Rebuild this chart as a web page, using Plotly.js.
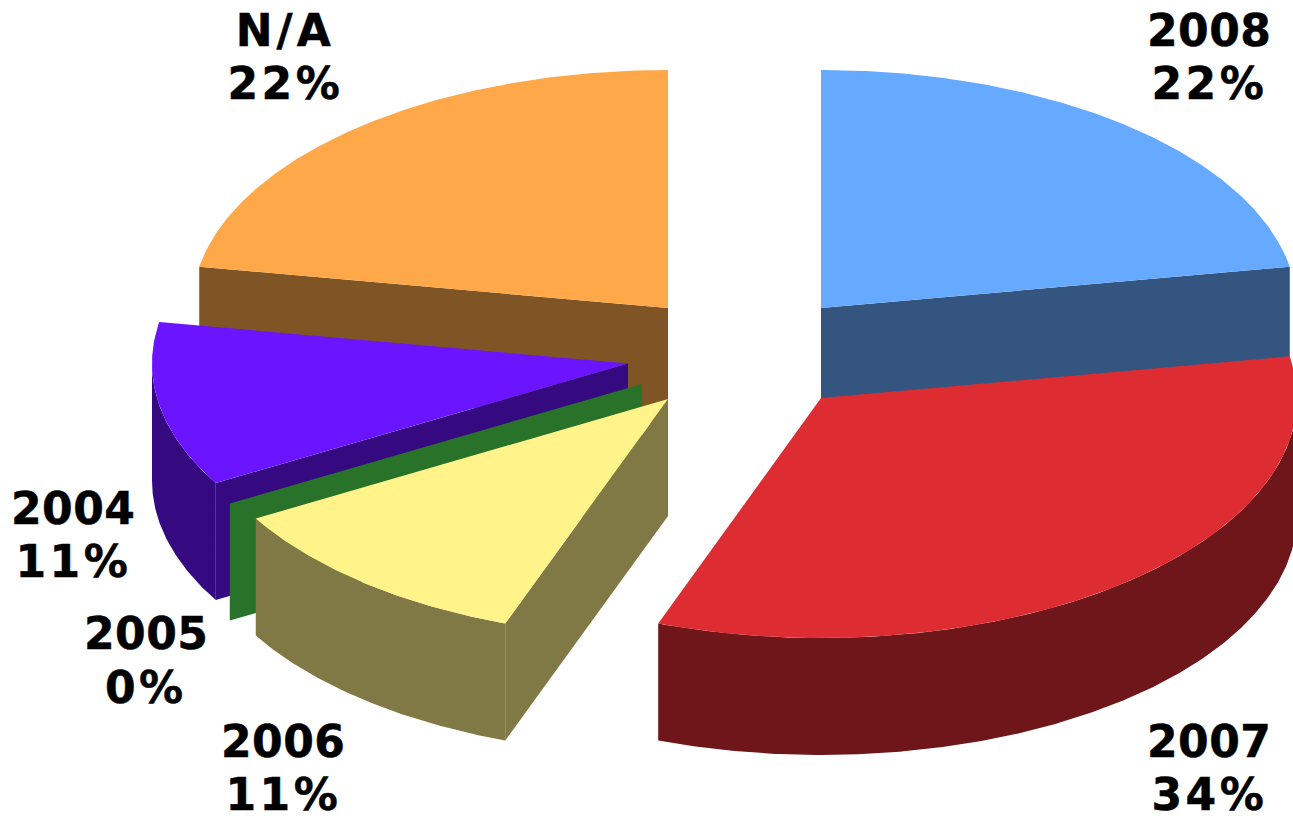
<!DOCTYPE html>
<html>
<head>
<meta charset="utf-8">
<script src="https://cdn.plot.ly/plotly-3.0.1.min.js"></script>
<style>
html,body{margin:0;padding:0;background:#fff;overflow:hidden}
#chart{width:1293px;height:816px}
.annotation-text{letter-spacing:.5px;stroke:#000;stroke-width:.5px}
.annotation[data-index="1"] .annotation-text,
.annotation[data-index="3"] .annotation-text,
.annotation[data-index="5"] .annotation-text,
.annotation[data-index="7"] .annotation-text,
.annotation[data-index="9"] .annotation-text,
.annotation[data-index="11"] .annotation-text{letter-spacing:3.5px}
.annotation[data-index="10"] .annotation-text{letter-spacing:4px}
</style>
</head>
<body>
<div id="chart"></div>
<script>
// Data: counts behind each slice and the printed labels
const categories = ['2008', '2007', '2006', '2005', '2004', 'N/A'];
const counts = [2, 3, 1, 0, 1, 2];
const percentLabels = ['22%', '34%', '11%', '0%', '11%', '22%'];

// Styling
const topColors = ['#66AAFF', '#DD2D32', '#FFF38A', '#4CDF52', '#6A14FF', '#FFA84A'];
const wallColors = ['#33557F', '#6F161A', '#807945', '#297229', '#350A80', '#7F5525'];

// Geometry of the tilted, exploded pie
const centerX = [821, 821, 668, 642, 628, 668];
const centerY = [308, 398, 399, 384, 363.5, 308];
const radiusX = 476, depth = 117;
const radiusY = [238, 240, 239, 239, 239, 238];
const labelX = [1209, 1209, 283, 146, 73, 285];
const labelY1 = [30, 741, 741, 633, 508, 30];
const labelY2 = [83, 794, 794, 687, 561, 83];
const paintOrder = [5, 0, 4, 3, 2, 1];

const total = counts.reduce((a, b) => a + b, 0);
const startAngle = [], endAngle = [];
let running = 0;
counts.forEach(c => {
  startAngle.push(running / total * 360);
  running += c;
  endAngle.push(running / total * 360);
});

const rad = d => d * Math.PI / 180;
const rimX = (i, a) => centerX[i] + radiusX * Math.sin(rad(a));
const rimY = (i, a) => centerY[i] - radiusY[i] * Math.cos(rad(a));

function polygon(xs, ys, color, name) {
  return {
    type: 'scatter', mode: 'lines', x: xs.concat(xs[0]), y: ys.concat(ys[0]),
    fill: 'toself', fillcolor: color, line: {width: 0, color: color},
    hoverinfo: 'skip', showlegend: false, name: name
  };
}
function arcAngles(a, b) {
  const out = [];
  const n = Math.max(1, Math.ceil((b - a) * 2));
  for (let k = 0; k <= n; k++) out.push(a + (b - a) * k / n);
  return out;
}
function radialWall(i, a) {
  const x0 = centerX[i], y0 = centerY[i], x1 = rimX(i, a), y1 = rimY(i, a);
  return polygon([x0, x1, x1, x0], [y0, y1, y1 + depth, y0 + depth], wallColors[i], categories[i] + ' wall');
}

const traces = [];
paintOrder.forEach(i => {
  const a = startAngle[i], b = endAngle[i];
  if (Math.sin(rad(a)) < -1e-9) traces.push(radialWall(i, a));
  if (Math.sin(rad(b)) > 1e-9) traces.push(radialWall(i, b));
  const lo = Math.max(a, 90), hi = Math.min(b, 270);
  if (hi > lo) {
    const arc = arcAngles(lo, hi);
    const xs = arc.map(t => rimX(i, t));
    const upper = arc.map(t => rimY(i, t));
    const lower = upper.map(y => y + depth);
    traces.push(polygon(xs.concat(xs.slice().reverse()), upper.concat(lower.reverse()), wallColors[i], categories[i] + ' rim'));
  }
  if (b > a) {
    const arc = arcAngles(a, b);
    traces.push(polygon([centerX[i]].concat(arc.map(t => rimX(i, t))),
                        [centerY[i]].concat(arc.map(t => rimY(i, t))), topColors[i], categories[i]));
  }
});

const labelFont = {family: '"DejaVu Sans", sans-serif', size: 44, color: '#000'};
const annotations = [];
categories.forEach((c, i) => {
  [[c, labelY1[i]], [percentLabels[i], labelY2[i]]].forEach(([t, y]) => {
    annotations.push({
      x: labelX[i], y: y, xref: 'x', yref: 'y', text: '<b>' + t + '</b>',
      showarrow: false, font: labelFont, xanchor: 'center', yanchor: 'middle'
    });
  });
});

Plotly.newPlot('chart', traces, {
  width: 1293, height: 816,
  margin: {l: 0, r: 0, t: 0, b: 0},
  paper_bgcolor: '#fff', plot_bgcolor: '#fff',
  showlegend: false,
  xaxis: {range: [0, 1293], visible: false, fixedrange: true},
  yaxis: {range: [816, 0], visible: false, fixedrange: true},
  annotations: annotations
}, {displayModeBar: false, staticPlot: true});
</script>
</body>
</html>
